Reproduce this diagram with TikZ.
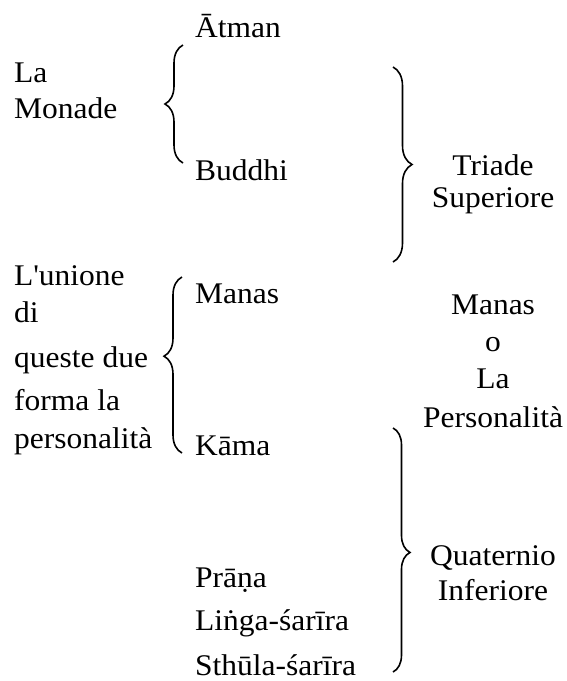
\documentclass[tikz,border=0pt]{standalone}
\usepackage{fontspec}
\setmainfont[FakeStretch=1.05]{Liberation Serif}
\usetikzlibrary{positioning,decorations.pathreplacing}

\begin{document}
\begin{tikzpicture}[
    x=1pt, y=-1pt,
    every node/.style={font=\fontsize{30}{37}\selectfont, inner sep=0pt},
    termtext/.style={anchor=base west},
    sidetext/.style={anchor=base west, align=left},
    grouptext/.style={anchor=base, align=center},
    bracemark/.style={decorate, decoration={brace, amplitude=18pt}, line width=1.6pt}
  ]
    \useasboundingbox (0,0) rectangle (566,681);

    % Principles
    \node[termtext] (atman) at (195,37) {Ātman};
    \node[termtext] (buddhi) at (195,180) {Buddhi};
    \node[termtext] (manas) at (195,303) {Manas};
    \node[termtext] (kama) at (195,455) {Kāma};
    \node[termtext] (prana) at (195,587) {Prāṇa};
    \node[termtext] (linga) at (195,630) {Liṅga-śarīra};
    \node[termtext] (sthula) at (195,675) {Sthūla-śarīra};

    % Left side notes (base = last line)
    \node[sidetext] (monade) at (14,118) {La\\[-1pt]Monade};
    \node[sidetext] (unione) at (14,448) {L\textquotesingle unione\\di\\[8pt]queste due\\[6pt]forma la\\[1pt]personalità};

    % Right side groups
    \node[grouptext] (triade) at (493,207) {Triade\\[-5pt]Superiore};
    \node[grouptext] (personalita) at (493,427) {Manas\\o\\La\\[2pt]Personalità};
    \node[grouptext] (quaternio) at (493,600) {Quaternio\\[-2pt]Inferiore};

    % Braces
    \draw[bracemark] (183,163) -- (183,45);
    \draw[bracemark, decoration={aspect=0.55}] (182,453) -- (182,277);
    \draw[bracemark, decoration={amplitude=19pt}] (393,67) -- (393,262);
    \draw[bracemark, decoration={amplitude=17pt, aspect=0.51}] (393,428) -- (393,672);

  \end{tikzpicture}
\end{document}
